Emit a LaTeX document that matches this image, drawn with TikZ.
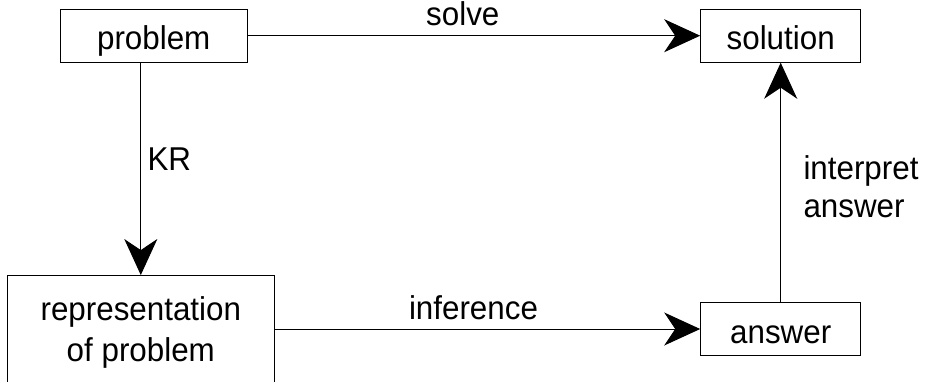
\documentclass[tikz,border=0pt]{standalone}
\usepackage{fontspec}
\setmainfont{Liberation Sans}[FakeStretch=0.95]
\usetikzlibrary{arrows.meta}

\begin{document}
\begin{tikzpicture}[x=1pt, y=-1pt, line width=1pt,
  every node/.style={inner sep=0pt, font=\fontsize{33}{40}\selectfont},
  box/.style={draw, rectangle, minimum height=53pt, text height=35pt, text depth=7pt},
  link/.style={-{Stealth[length=36pt, width=33pt, inset=11pt]}},
  lbl/.style={anchor=base west}]
\useasboundingbox (0,0) rectangle (926,381);

% stages of problem solving
\node[box, minimum width=187pt] (prob) at (153.7,35.7) {problem};
\node[box, minimum width=160pt] (sol)  at (780.7,35.7) {solution};
\node[box, minimum width=160pt] (ans)  at (780.7,329.0) {answer};
\node[draw, rectangle, minimum width=267pt, minimum height=113.3pt, align=center,
      font=\fontsize{33}{41}\selectfont] (rep) at (140.8,332.2)
      {representation\\of problem};

% transitions between stages
\draw[link] (prob) -- (sol);
\draw[link] (rep.north |- prob.south) -- (rep.north);
\draw[link] (rep.east |- ans.west) -- (ans.west);
\draw[link] (ans) -- (sol);

% transition labels
\node[lbl] (solve) at (425.7,25) {solve};
\node[lbl] (kr) at (147,170) {KR};
\node[lbl] (infer) at (408.5,319.3) {inference};
\node[anchor=north west, align=left, font=\fontsize{33}{38.5}\selectfont]
      (interp) at (803,154.7) {interpret\\answer};
\end{tikzpicture}
\end{document}
